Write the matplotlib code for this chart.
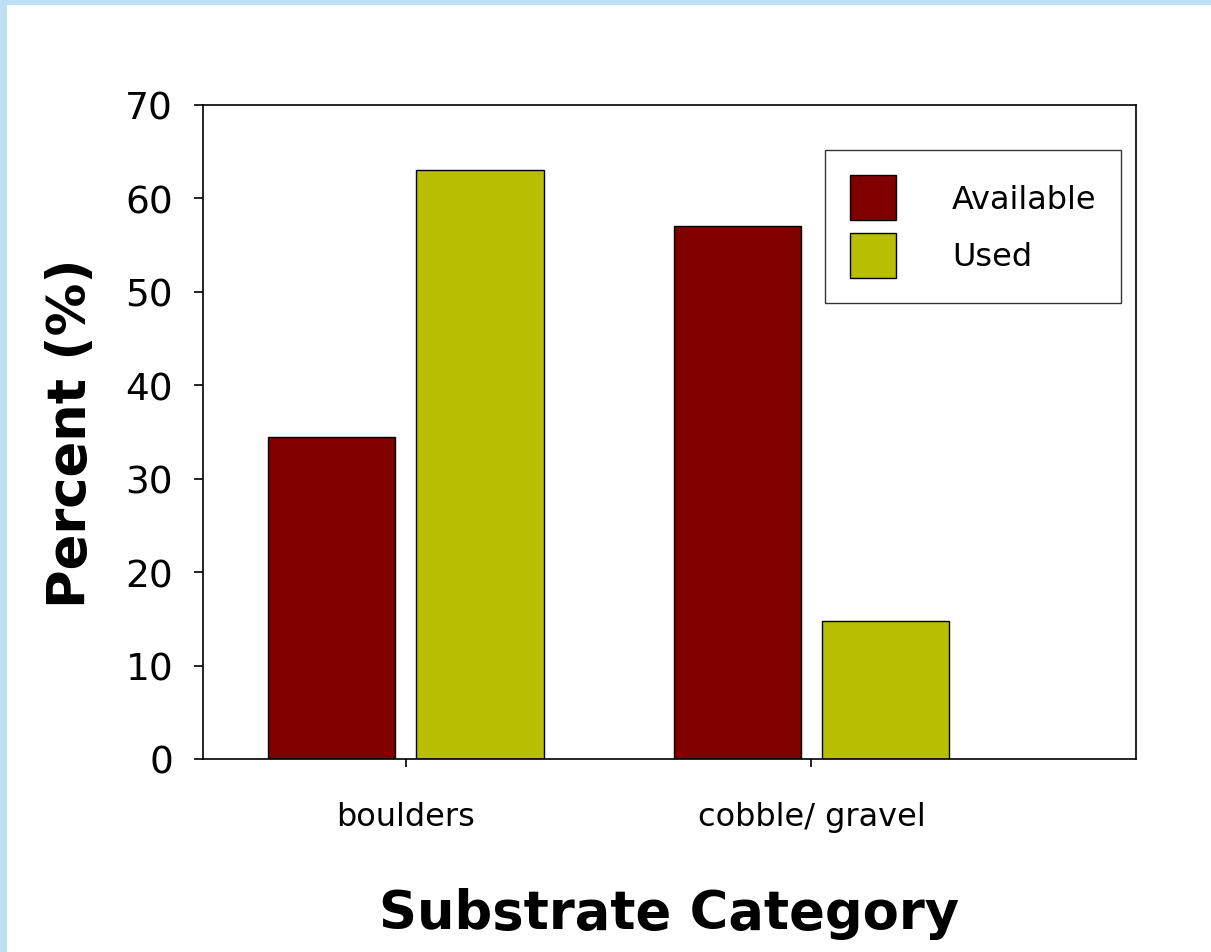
import matplotlib
matplotlib.use("Agg")
import matplotlib.pyplot as plt
import numpy as np
from matplotlib.patches import Rectangle

categories = ["boulders", "cobble/ gravel"]
available = [34.5, 57.0]
used = [63.0, 14.8]
series_names = ["Available", "Used"]
yticks = [0, 10, 20, 30, 40, 50, 60, 70]

plt.rcParams['font.family'] = ['DejaVu Sans']

fig = plt.figure(figsize=(12.11, 9.53), dpi=100)
# light blue frame strips (top and left)
fig.patches.append(Rectangle((0, 1 - 6/953), 1, 6/953, transform=fig.transFigure,
                             facecolor='#BEE0F5', edgecolor='none', zorder=10))
fig.patches.append(Rectangle((0, 0), 7/1211, 1, transform=fig.transFigure,
                             facecolor='#BEE0F5', edgecolor='none', zorder=10))

ax = fig.add_axes([203/1211, 1-760/953, (1136-203)/1211, (760-106)/953])

x = np.arange(len(categories))
w = 0.314
off = (w + 0.052) / 2
ax.bar(x - off, available, width=w, color='#800000', edgecolor='black', linewidth=1, label=series_names[0])
ax.bar(x + off, used, width=w, color='#B8BF00', edgecolor='black', linewidth=1, label=series_names[1])

ax.set_xlim(-0.5, 1.80)
ax.set_ylim(0, 70)
ax.set_yticks(yticks)
ax.set_yticklabels([str(t) for t in yticks], fontsize=27)
ax.set_xticks(x)
ax.set_xticklabels(categories, fontsize=23)
ax.tick_params(axis='y', direction='out', length=6.5, width=1.2, pad=15)
ax.tick_params(axis='x', direction='out', length=6, width=1.2, pad=24)
for s in ax.spines.values():
    s.set_linewidth(1.2)

ax.set_ylabel("Percent (%)", fontsize=38, fontweight='bold', labelpad=20)
ax.set_xlabel("Substrate Category", fontsize=38, fontweight='bold', labelpad=40)

leg = ax.legend(loc='upper left', bbox_to_anchor=((825-203)/933, (760-151)/654),
                fontsize=23, frameon=True, fancybox=False, edgecolor='black',
                handlelength=1.44, handleheight=1.79, handletextpad=1.75,
                labelspacing=0.4, borderpad=0.78, borderaxespad=0)
leg.get_frame().set_linewidth(1.0)

fig.savefig("out.png", dpi=100)
